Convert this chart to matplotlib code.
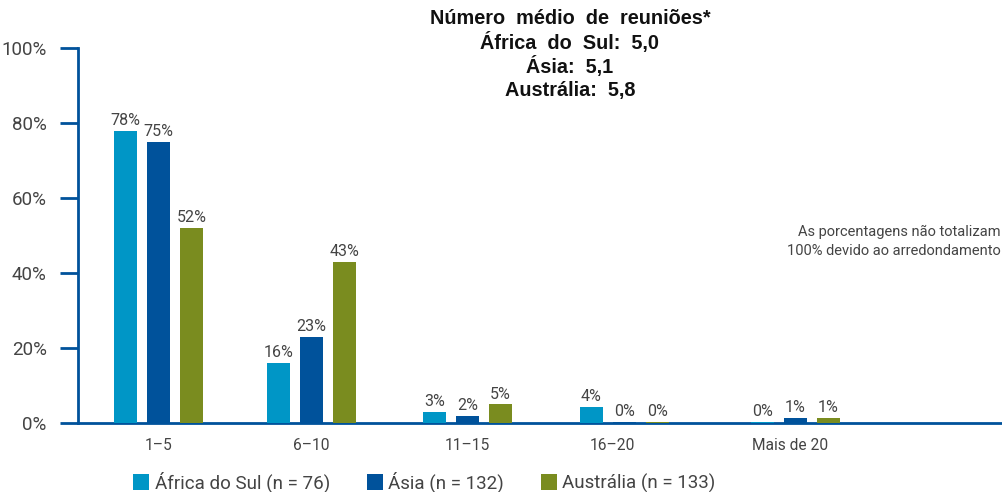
import matplotlib.pyplot as plt
import numpy as np
from matplotlib.patches import Patch

categories = ["1\u20135", "6\u201310", "11\u201315", "16\u201320", "Mais de 20"]
series_names = ["África do Sul (n = 76)", "Ásia (n = 132)", "Austrália (n = 133)"]
africa = [78, 16, 3, 4.3, 0.4]
asia = [75, 23, 2, 0.4, 1.3]
australia = [52, 43, 5, 0.4, 1.3]
yticks = [0, 20, 40, 60, 80, 100]
title_lines = ["Número  médio  de  reuniões*", "África  do  Sul:  5,0", "Ásia:  5,1", "Austrália:  5,8"]
note = "As porcentagens não totalizam\n100% devido ao arredondamento"

colors = ["#0096c6", "#00529b", "#7a8c1f"]
axis_color = "#00529b"
text_color = "#444444"

plt.rcParams["font.family"] = ["Roboto", "DejaVu Sans"]

W, H = 1003, 492
fig = plt.figure(figsize=(W / 100, H / 100), dpi=100)
ax = fig.add_axes([78 / W, 69 / H, 1 - 78 / W, 375 / H])

# group centres in axis-data units (pixel-like spacing)
x = np.array([80.5, 233.5, 389.5, 546.5, 717.5])
bw, step = 23, 33
for i, (vals, c) in enumerate(zip([africa, asia, australia], colors)):
    xs = x + (i - 1) * step
    ax.bar(xs, vals, width=bw, color=c, zorder=4)
    for xi, v in zip(xs, vals):
        ax.text(xi, v + 0.7, f"{round(v)}%", ha="center", va="bottom",
                fontsize=11.5, color=text_color)

ax.set_xlim(0, W - 78)
ax.set_ylim(0, 100)
ax.set_yticks(yticks)
ax.set_yticklabels([f"{t}%" for t in yticks], fontsize=13.5, color=text_color)
ax.tick_params(axis="y", length=13, width=2, color=axis_color, pad=9.5)
ax.set_xticks(x - np.array([0, 0, 0, 12, 5]))
ax.set_xticklabels(categories, fontsize=11.2, color=text_color)
ax.tick_params(axis="x", length=0, pad=11)
for s in ["top", "right"]:
    ax.spines[s].set_visible(False)
ax.spines["left"].set_color(axis_color)
ax.spines["left"].set_linewidth(2)
ax.spines["bottom"].set_color(axis_color)
ax.spines["bottom"].set_linewidth(2)
ax.spines["bottom"].set_zorder(3)

for k, line in enumerate(title_lines):
    fig.text(570 / W, 1 - (18 + 24.3 * k) / H, line, ha="center", va="center",
             fontsize=14.3, fontweight="heavy", color="#111111",
             family=["Liberation Sans", "DejaVu Sans"])

fig.text(1001 / W, 1 - 241 / H, note, ha="right", va="center", fontsize=10.5,
         color=text_color, linespacing=1.45)

handles = [Patch(facecolor=c, edgecolor="none") for c in colors]
fig.legend(handles, series_names, loc="center left", bbox_to_anchor=(124 / W, 1 - 482 / H),
           ncol=3, frameon=False, fontsize=13.5, handlelength=0.85, handleheight=1.0,
           handletextpad=0.3, columnspacing=1.95, labelcolor=text_color, borderpad=0)

fig.savefig("out.png", dpi=100)
